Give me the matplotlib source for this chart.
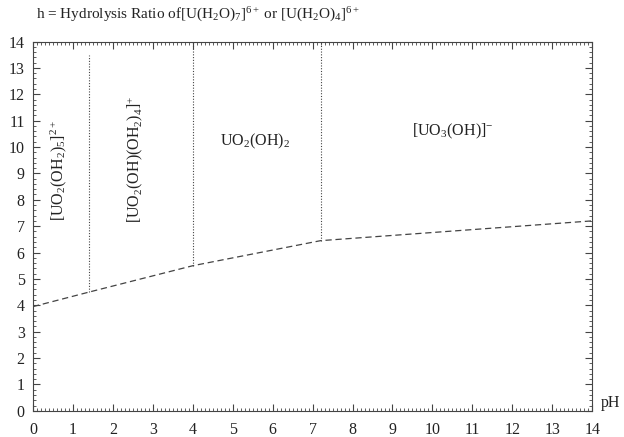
import matplotlib
matplotlib.use("Agg")
import matplotlib.pyplot as plt
import numpy as np
from matplotlib.ticker import MultipleLocator

plt.rcParams['font.family'] = ['Liberation Serif', 'DejaVu Serif']
plt.rcParams['mathtext.fontset'] = 'custom'
plt.rcParams['mathtext.rm'] = 'Liberation Serif'
plt.rcParams['mathtext.it'] = 'Liberation Serif:italic'

# hydrolysis ratio curve
ph_curve = [0, 1.4, 4.0, 7.2, 14]
h_curve = [3.95, 4.5, 5.5, 6.45, 7.2]

# boundaries between species (pH, top of line)
ph_bounds = [1.4, 4.0, 7.2]
top_bounds = [13.5, 14, 14]

# species labels: text, pH, h, rotation
species = [r"$\mathrm{[UO_2(OH_2)_5]^{2+}}$", r"$\mathrm{[UO_2(OH)(OH_2)_4]^{+}}$",
           r"$\mathrm{UO_2(OH)_2}$", r"$\mathrm{[UO_3(OH)]^{-}}$"]
species_ph = [0.65, 2.55, 5.55, 10.5]
species_h = [9.1, 9.55, 10.2, 10.6]
species_rot = [90, 90, 0, 0]

col = '#444444'
txt = '#222222'

fig = plt.figure(figsize=(6.24, 4.37), dpi=100)
ax = fig.add_axes([0.053, 0.060, 0.896, 0.845])

ax.plot(ph_curve, h_curve, color=col, lw=0.9, ls=(0, (5, 3)))
for p, t in zip(ph_bounds, top_bounds):
    bottom = np.interp(p, ph_curve, h_curve)
    ax.plot([p, p], [bottom, t], color=col, lw=0.8, ls=(0, (1, 1.5)))

for s, x, y, r in zip(species, species_ph, species_h, species_rot):
    ax.text(x, y, s, rotation=r, ha='center', va='center', fontsize=11.5, color=txt)

ax.set_xlim(0, 14)
ax.set_ylim(0, 14)
ax.xaxis.set_major_locator(MultipleLocator(1))
ax.yaxis.set_major_locator(MultipleLocator(1))
ax.xaxis.set_minor_locator(MultipleLocator(0.1))
ax.yaxis.set_minor_locator(MultipleLocator(0.2))
ax.tick_params(which='both', direction='in', top=True, right=True, colors=col,
               labelcolor=txt, labelsize=11.5)
ax.tick_params(which='major', length=5, width=0.8)
ax.tick_params(which='minor', length=2.5, width=0.6)
ax.tick_params(axis='x', which='major', pad=8)
ax.tick_params(axis='y', which='major', pad=6)
for sp in ax.spines.values():
    sp.set_color(col)
    sp.set_linewidth(0.8)

ax.text(1.015, 0.02, "pH", transform=ax.transAxes, ha='left', va='center',
        fontsize=11.5, color=txt)
fig.text(0.058, 0.965,
         r"h = Hydrolysis Ratio of$\mathrm{[U(H_2O)_7]^{6+}}$ or $\mathrm{[U(H_2O)_4]^{6+}}$",
         ha='left', va='center', fontsize=11, color=txt)

fig.savefig("out.png", dpi=100)
